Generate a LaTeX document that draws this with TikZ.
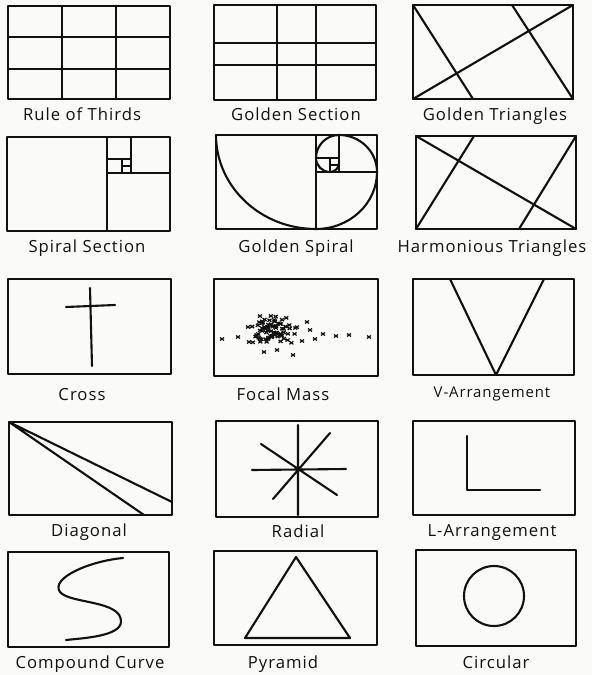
\documentclass[tikz,border=0pt]{standalone}
\usepackage{fontspec}
\newfontfamily\handfont[LetterSpace=6]{Open Sans}
\usetikzlibrary{positioning}

\definecolor{paper}{HTML}{FAFAF8}
\definecolor{ink}{HTML}{111111}

\tikzset{
  frame/.style={draw=ink, line width=1.35pt, line join=round},
  guide/.style={draw=ink, line width=1.2pt, line cap=round, line join=round},
  caption/.style={anchor=base, inner sep=0pt, text=ink, font=\handfont\fontsize{9.5}{11}\selectfont},
  smallcaption/.style={caption, font=\handfont\fontsize{8.5}{10}\selectfont},
  speck/.style={draw=ink, line width=0.7pt},
}

\begin{document}
\begin{tikzpicture}[x=0.02cm, y=-0.02cm]
  % Paper
  \fill[paper] (0,0) rectangle (592,675);
  \useasboundingbox (0,0) rectangle (592,675);

  % Row 1
  \draw[frame] (8,6) rectangle (170,99);
  \draw[guide] (62,6) -- (62,99) (116,6) -- (116,99) (8,37) -- (170,37) (8,69) -- (170,69);
  \node[caption] (thirds) at (82,121) {Rule of Thirds};

  \draw[frame] (214,5) rectangle (376,100);
  \draw[guide] (277,5) -- (277,100) (316,5) -- (316,100) (214,43) -- (376,43) (214,65) -- (376,65);
  \node[caption] (section) at (296,121) {Golden Section};

  \draw[frame] (413,5) rectangle (573,99);
  \draw[guide] (413,99) -- (573,5) (413,5) -- (473,99) (512,5) -- (573,99);
  \node[caption] (goldtri) at (495,121) {Golden Triangles};

  % Row 2
  \draw[frame] (7,137) rectangle (170,231);
  \draw[guide] (107,137) -- (107,231) (107,173) -- (170,173) (131,137) -- (131,173)
    (107,159) -- (131,159) (122,159) -- (122,173) (122,166) -- (131,166);
  \node[caption] (spiralsec) at (87,253) {Spiral Section};

  \draw[frame] (216,135) rectangle (377,229);
  \draw[guide] (316,135) -- (316,229) (316,172) -- (377,172) (339,135) -- (339,172)
    (316,158) -- (339,158) (330,158) -- (330,172) (330,165) -- (339,165);
  \draw[guide] (216,135) arc[start angle=180, end angle=90, x radius=100, y radius=94]
    arc[start angle=90, end angle=0, x radius=61, y radius=57]
    arc[start angle=0, end angle=-90, x radius=38, y radius=37]
    arc[start angle=-90, end angle=-180, radius=23]
    arc[start angle=180, end angle=90, radius=14]
    arc[start angle=90, end angle=0, radius=9];
  \node[caption] (goldspiral) at (296,253) {Golden Spiral};

  \draw[frame] (416,136) rectangle (576,229);
  \draw[guide] (416,136) -- (576,229) (416,229) -- (474,136) (576,136) -- (519,229);
  \node[caption] (harmonic) at (492,253) {Harmonious Triangles};

  % Row 3
  \draw[frame] (8,279) rectangle (171,374);
  \draw[guide] (90,288) -- (92,366) (66,307) -- (115,305);
  \node[caption] (cross) at (82,400) {Cross};

  \draw[frame] (214,279) rectangle (378,376);
  \pgfmathsetseed{42}
  \foreach \i in {1,...,80}{
    \pgfmathsetmacro\mx{275+12*(rand+rand)}
    \pgfmathsetmacro\my{330+8*(rand+rand)}
    \draw[speck] (\mx-2,\my-1.5) -- (\mx+2,\my+1.5) (\mx-2,\my+1.5) -- (\mx+2,\my-1.5);
  }
  \foreach \mx/\my in {222/339, 238/337, 248/327, 249/342, 264/352, 277/350, 293/355, 302/341,
    307/322, 310/330, 315/339, 323/334, 336/336, 349/335, 369/337}{
    \draw[speck] (\mx-2,\my-1.5) -- (\mx+2,\my+1.5) (\mx-2,\my+1.5) -- (\mx+2,\my-1.5);
  }
  \node[caption] (focal) at (283,400) {Focal Mass};

  \draw[frame] (413,279) rectangle (574,375);
  \draw[guide] (450,279) -- (496,375) -- (544,279);
  \node[smallcaption] (varr) at (492,397) {V-Arrangement};

  % Row 4
  \draw[frame] (9,422) rectangle (172,515);
  \draw[guide] (9,422) -- (172,502) (9,422) -- (144,515);
  \node[caption] (diag) at (89,536) {Diagonal};

  \draw[frame] (216,421) rectangle (378,517);
  \draw[guide] (298,425) -- (298,515) (252,470) -- (346,469) (261,444) -- (337,495) (330,433) -- (273,499);
  \node[caption] (radial) at (298,537) {Radial};

  \draw[frame] (413,421) rectangle (575,515);
  \draw[guide] (467,436) -- (467,490) -- (540,490);
  \node[caption] (larr) at (492,536) {L-Arrangement};

  % Row 5
  \draw[frame] (8,552) rectangle (169,647);
  \draw[guide] (123,558) .. controls (90,561) and (50,578) .. (60,592)
    .. controls (70,604) and (122,600) .. (121,622)
    .. controls (120,636) and (85,638) .. (66,640);
  \node[caption] (curve) at (90,668) {Compound Curve};

  \draw[frame] (214,551) rectangle (377,645);
  \draw[guide] (296,557) -- (350,638) -- (245,638) -- cycle;
  \node[caption] (pyramid) at (283,668) {Pyramid};

  \draw[frame] (416,550) rectangle (576,646);
  \draw[guide] (494,596) circle[radius=30];
  \node[caption] (circular) at (496,668) {Circular};
\end{tikzpicture}
\end{document}
